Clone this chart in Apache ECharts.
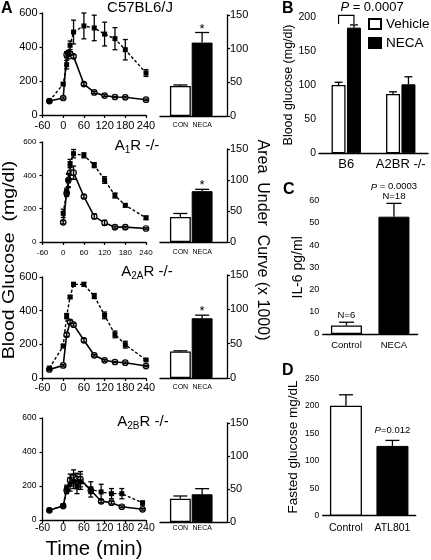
<!DOCTYPE html>
<html><head><meta charset="utf-8">
<script src="https://cdn.jsdelivr.net/npm/echarts@6/dist/echarts.min.js"></script>
<style>html,body{margin:0;padding:0;background:#fff}#c{width:431px;height:560px}</style>
</head><body><div id="c"></div>
<script>
// ---------------- data ----------------
const timeTicks = [-60, 0, 60, 120, 180, 240];
const glucoseTicks = [0, 200, 400, 600];
const aucTicks = [0, 50, 100, 150];
const rowTitles = ['C57BL6/J', 'A1R -/-', 'A2AR -/-', 'A2BR -/-'];
const rowTitleSubs = ['', '1', '2A', '2B'];

const c57Time = [-40, 0, 10, 15, 20, 30, 60, 90, 120, 150, 180, 240];
const c57Vehicle = [82, 100, 355, 361, 361, 345, 182, 133, 114, 106, 104, 90];
const c57VehicleErr = [5, 6, 18, 10, 10, 10, 8, 6, 5, 4, 4, 4];
const c57Neca = [82, 182, 296, 355, 410, 488, 524, 512, 476, 449, 384, 247];
const c57NecaErr = [5, 8, 25, 25, 25, 70, 76, 75, 70, 65, 60, 20];

const a1Time = [0, 10, 15, 20, 30, 60, 90, 120, 150, 180, 240];
const a1Vehicle = [118, 293, 372, 416, 416, 273, 154, 115, 89, 89, 81];
const a1VehicleErr = [10, 20, 40, 35, 40, 10, 15, 15, 6, 5, 4];
const a1Neca = [172, 303, 366, 471, 530, 520, 461, 372, 279, 220, 145];
const a1NecaErr = [25, 20, 40, 25, 25, 15, 15, 20, 15, 10, 10];

const a2aTime = [-40, 0, 10, 20, 30, 60, 90, 120, 150, 180, 240];
const a2aVehicle = [51, 75, 257, 333, 317, 224, 135, 105, 95, 91, 71];
const a2aVehicleErr = [5, 5, 10, 10, 8, 10, 5, 5, 4, 4, 4];
const a2aNeca = [59, 190, 368, 481, 556, 556, 487, 372, 259, 198, 107];
const a2aNecaErr = [5, 10, 15, 8, 12, 12, 15, 20, 20, 20, 5];

const a2bTime = [-40, 0, 10, 20, 30, 40, 50, 80, 110, 140, 170, 230];
const a2bVehicle = [57, 82, 175, 235, 255, 240, 240, 175, 110, 102, 78, 63];
const a2bVehicleErr = [5, 5, 20, 35, 40, 35, 45, 20, 8, 8, 5, 5];
const a2bNeca = [57, 85, 185, 210, 225, 195, 225, 180, 165, 155, 155, 100];
const a2bNecaErr = [5, 5, 20, 40, 40, 40, 45, 45, 45, 30, 30, 12];

const aucCategories = ['CON', 'NECA'];
const aucCon = [44.6, 40.5, 38.6, 35.4];
const aucConErr = [1.5, 5.5, 1, 4];
const aucNeca = [109, 82, 87, 42];
const aucNecaErr = [15, 3, 4.5, 8.5];
const aucSig = ['*', '*', '*', ''];

const bGroups = ['B6', 'A2BR -/-'];
const bTicks = [0, 50, 100, 150, 200];
const bVehicle = [100, 87];
const bVehicleErr = [4, 3];
const bNeca = [184, 101];
const bNecaErr = [4, 11];
const bP = '0.0007';

const cGroups = ['Control', 'NECA'];
const cTicks = [0, 10, 20, 30, 40, 50, 60];
const cIL6 = [3.8, 52.8];
const cIL6Err = [1.5, 6];
const cN = ['N=6', 'N=18'];
const cP = '0.0003';

const dGroups = ['Control', 'ATL801'];
const dTicks = [0, 50, 100, 150, 200, 250];
const dGlucose = [200, 127];
const dGlucoseErr = [20, 10];
const dP = '0.012';

// ---------------- chart ----------------
const FONT = '"Liberation Sans", Arial, Helvetica, sans-serif';
const chart = echarts.init(document.getElementById('c'), null, {width: 431, height: 560});
const AX = {onZero: false, lineStyle: {color: '#000', width: 1.3}};
const TICK = {length: 3, lineStyle: {color: '#000', width: 1.2}};
const lab = (fs, m, extra) => Object.assign({fontSize: fs, margin: m, color: '#000', fontFamily: FONT}, extra || {});
const grids = [], xAxes = [], yAxes = [], series = [], graphics = [];

function errSeries(g, pts, opts) {
  return {
    type: 'custom', xAxisIndex: g, yAxisIndex: g, silent: true, z: 5, data: pts,
    renderItem: function (params, api) {
      const x = api.value(0), lo = api.value(1), hi = api.value(2);
      const top = api.coord([x, hi]), bot = api.coord([x, lo]);
      const cx = top[0] + (opts.dx || 0), w = opts.cap;
      const st = {stroke: '#000', lineWidth: opts.lw || 1.3};
      const ch = [
        {type: 'line', shape: {x1: cx, y1: bot[1], x2: cx, y2: top[1]}, style: st},
        {type: 'line', shape: {x1: cx - w, y1: top[1], x2: cx + w, y2: top[1]}, style: st}
      ];
      if (opts.both) ch.push({type: 'line', shape: {x1: cx - w, y1: bot[1], x2: cx + w, y2: bot[1]}, style: st});
      const t = opts.labels && opts.labels[params.dataIndex];
      if (t) ch.push({type: 'text', x: cx, y: top[1] - (opts.gap || 0), style: {
        text: t, fontSize: opts.fs || 10, fontFamily: FONT, fill: '#000', align: 'center', verticalAlign: 'bottom',
        lineHeight: opts.lh || undefined, rich: {i: {fontStyle: 'italic', fontSize: opts.fs || 10, fontFamily: FONT}}
      }});
      return {type: 'group', children: ch};
    }
  };
}

const rowData = [
  {time: c57Time, veh: c57Vehicle, vehErr: c57VehicleErr, neca: c57Neca, necaErr: c57NecaErr},
  {time: a1Time, veh: a1Vehicle, vehErr: a1VehicleErr, neca: a1Neca, necaErr: a1NecaErr},
  {time: a2aTime, veh: a2aVehicle, vehErr: a2aVehicleErr, neca: a2aNeca, necaErr: a2aNecaErr},
  {time: a2bTime, veh: a2bVehicle, vehErr: a2bVehicleErr, neca: a2bNeca, necaErr: a2bNecaErr}
];
const rowLayout = [
  {top: 13, h: 102, bTop: 15, bH: 101, yFont: 11, xFont: 11, xM: 5, yM: 5, cM: 6, tx: 140, ty: 8},
  {top: 142, h: 100, bTop: 149, bH: 93, yFont: 8, xFont: 8, xM: 7, yM: 6, cM: 7, tx: 137, ty: 146},
  {top: 277, h: 101, bTop: 275, bH: 103, yFont: 11, xFont: 11, xM: 4.5, yM: 5, cM: 6, tx: 147, ty: 272},
  {top: 418, h: 102, bTop: 423, bH: 99, yFont: 8.5, xFont: 10.5, xM: 3, yM: 6, cM: 3, tx: 143, ty: 422}
];

rowData.forEach((d, i) => {
  const L = rowLayout[i];
  const gL = 3 * i, gF = 3 * i + 1, gB = 3 * i + 2;
  grids.push({left: 42.5, top: L.top, width: 103.5, height: L.h});
  grids.push({left: 160, top: L.bTop, width: 67, height: L.bH});
  grids.push({left: 169.5, top: L.bTop, width: 43.5, height: L.bH});
  xAxes.push({gridIndex: gL, type: 'value', min: timeTicks[0], max: timeTicks[timeTicks.length - 1], interval: timeTicks[1] - timeTicks[0],
    axisLine: AX, axisTick: TICK, axisLabel: lab(L.xFont, L.xM), splitLine: {show: false}});
  yAxes.push({gridIndex: gL, type: 'value', min: glucoseTicks[0], max: glucoseTicks[glucoseTicks.length - 1], interval: glucoseTicks[1] - glucoseTicks[0],
    axisLine: AX, axisTick: TICK, axisLabel: lab(L.yFont, L.yM), splitLine: {show: false}});
  xAxes.push({gridIndex: gF, type: 'value', min: 0, max: 1, axisLine: AX, axisTick: {show: false}, axisLabel: {show: false}, splitLine: {show: false}});
  yAxes.push({gridIndex: gF, type: 'value', position: 'right', min: aucTicks[0], max: aucTicks[aucTicks.length - 1], interval: aucTicks[1] - aucTicks[0],
    axisLine: AX, axisTick: TICK, axisLabel: lab(11, 3), splitLine: {show: false}});
  xAxes.push({gridIndex: gB, type: 'category', data: aucCategories, axisLine: {show: false}, axisTick: {show: false},
    axisLabel: lab(7, L.cM, {interval: 0, hideOverlap: false})});
  yAxes.push({gridIndex: gB, type: 'value', min: aucTicks[0], max: aucTicks[aucTicks.length - 1], show: false});

  series.push({name: rowTitles[i] + ' vehicle', type: 'line', xAxisIndex: gL, yAxisIndex: gL,
    data: d.time.map((t, k) => [t, d.veh[k]]), symbol: 'circle', symbolSize: 5.5, z: 4,
    itemStyle: {color: '#e2e2e2', borderColor: '#000', borderWidth: 1.2}, lineStyle: {color: '#000', width: 1.6}});
  series.push({name: rowTitles[i] + ' NECA', type: 'line', xAxisIndex: gL, yAxisIndex: gL,
    data: d.time.map((t, k) => [t, d.neca[k]]), symbol: 'rect', symbolSize: 5, z: 4,
    itemStyle: {color: '#000'}, lineStyle: {color: '#000', width: 1.4, type: [3, 2]}});
  series.push(errSeries(gL, d.time.map((t, k) => [t, d.veh[k] - d.vehErr[k], d.veh[k] + d.vehErr[k]]), {cap: 2.5, both: true}));
  series.push(errSeries(gL, d.time.map((t, k) => [t, d.neca[k] - d.necaErr[k], d.neca[k] + d.necaErr[k]]), {cap: 2.5, both: true}));

  series.push({name: rowTitles[i] + ' AUC', type: 'bar', xAxisIndex: gB, yAxisIndex: gB, barCategoryGap: '4%',
    data: [
      {value: aucCon[i], itemStyle: {color: '#fff', borderColor: '#000', borderWidth: 1.3}},
      {value: aucNeca[i], itemStyle: {color: '#000', borderColor: '#000', borderWidth: 1}}
    ]});
  series.push(errSeries(gB, [[0, aucCon[i], aucCon[i] + aucConErr[i]], [1, aucNeca[i], aucNeca[i] + aucNecaErr[i]]],
    {cap: 7, labels: ['', aucSig[i]], fs: 13, gap: -3}));

  const sub = rowTitleSubs[i];
  const txt = rowTitles[i];
  let rich;
  if (sub) {
    const k = txt.indexOf(sub);
    rich = '{n|' + txt.slice(0, k) + '}{s|' + sub + '}{n|' + txt.slice(k + sub.length) + '}';
  } else rich = '{n|' + txt + '}';
  graphics.push({type: 'text', x: L.tx, y: L.ty, style: {text: rich, align: 'center', verticalAlign: 'middle',
    rich: {n: {fontSize: 15, fontFamily: FONT, fill: '#000'}, s: {fontSize: 10, fontFamily: FONT, fill: '#000', padding: [8, 0, 0, 0]}}}});
});

// ---- Panel B ----
grids.push({left: 319, top: 16.7, width: 109, height: 136.6});
xAxes.push({gridIndex: 12, type: 'category', data: bGroups, axisLine: AX, axisTick: {show: false},
  axisLabel: lab(13, 5, {interval: 0, hideOverlap: false})});
yAxes.push({gridIndex: 12, type: 'value', min: bTicks[0], max: bTicks[bTicks.length - 1], interval: bTicks[1] - bTicks[0],
  axisLine: AX, axisTick: TICK, axisLabel: lab(10.5, 3), splitLine: {show: false},
  name: 'Blood glucose (mg/dl)', nameLocation: 'middle', nameGap: 20, nameTextStyle: {fontSize: 12.5, fontFamily: FONT, color: '#000'}});
series.push({name: 'Vehicle', type: 'bar', xAxisIndex: 12, yAxisIndex: 12, data: bVehicle, barWidth: 14, barGap: '10%',
  itemStyle: {color: '#fff', borderColor: '#000', borderWidth: 1.3}});
series.push({name: 'NECA', type: 'bar', xAxisIndex: 12, yAxisIndex: 12, data: bNeca, barWidth: 14, barGap: '10%',
  itemStyle: {color: '#000', borderColor: '#000', borderWidth: 1}});
series.push(errSeries(12, bVehicle.map((v, k) => [k, v, v + bVehicleErr[k]]), {cap: 4, dx: -7.7}));
series.push(errSeries(12, bNeca.map((v, k) => [k, v, v + bNecaErr[k]]), {cap: 4, dx: 7.7}));
const bTopVal = Math.max(bVehicle[0] + bVehicleErr[0], bNeca[0] + bNecaErr[0]);
series.push({type: 'custom', xAxisIndex: 12, yAxisIndex: 12, silent: true, z: 5, data: [[0, bTopVal, bTopVal + 14]],
  renderItem: function (params, api) {
    const a = api.coord([api.value(0), api.value(1)]), b = api.coord([api.value(0), api.value(2)]);
    return {type: 'polyline', shape: {points: [[a[0] - 7.7, a[1] - 1], [a[0] - 7.7, b[1]], [a[0] + 7.7, b[1]], [a[0] + 7.7, a[1] - 1]]},
      style: {stroke: '#000', lineWidth: 1.2, fill: null}};
  }});
graphics.push({type: 'text', x: 372, y: 7.5, style: {text: '{i|P} = ' + bP, fontSize: 13, fontFamily: FONT, fill: '#000',
  align: 'center', verticalAlign: 'middle', rich: {i: {fontStyle: 'italic', fontSize: 13, fontFamily: FONT}}}});

// ---- Panel C ----
grids.push({left: 322.7, top: 200.7, width: 95, height: 133.3});
xAxes.push({gridIndex: 13, type: 'category', data: cGroups, axisLine: AX, axisTick: {show: false},
  axisLabel: lab(9.5, 6, {interval: 0, hideOverlap: false})});
yAxes.push({gridIndex: 13, type: 'value', min: cTicks[0], max: cTicks[cTicks.length - 1], interval: cTicks[1] - cTicks[0],
  axisLine: AX, axisTick: TICK, axisLabel: lab(9, 3.5), splitLine: {show: false},
  name: 'IL-6 pg/ml', nameLocation: 'middle', nameGap: 16, nameTextStyle: {fontSize: 14, fontFamily: FONT, color: '#000'}});
series.push({name: 'IL-6', type: 'bar', xAxisIndex: 13, yAxisIndex: 13, barWidth: 31,
  data: [
    {value: cIL6[0], itemStyle: {color: '#fff', borderColor: '#000', borderWidth: 1.3}},
    {value: cIL6[1], itemStyle: {color: '#000', borderColor: '#000', borderWidth: 1}}
  ]});
series.push(errSeries(13, cIL6.map((v, k) => [k, v, v + cIL6Err[k]]),
  {cap: 7.5, fs: 9.5, lh: 10, gap: 1.5, labels: [cN[0], '{i|P} = ' + cP + '\n' + cN[1]]}));

// ---- Panel D ----
grids.push({left: 322.7, top: 378.3, width: 93, height: 137.4});
xAxes.push({gridIndex: 14, type: 'category', data: dGroups, axisLine: AX, axisTick: {show: false},
  axisLabel: lab(10.5, 7, {interval: 0, hideOverlap: false})});
yAxes.push({gridIndex: 14, type: 'value', min: dTicks[0], max: dTicks[dTicks.length - 1], interval: dTicks[1] - dTicks[0],
  axisLine: AX, axisTick: TICK, axisLabel: lab(8.5, 3.5), splitLine: {show: false},
  name: 'Fasted glucose mg/dL', nameLocation: 'middle', nameGap: 22, nameTextStyle: {fontSize: 13.5, fontFamily: FONT, color: '#000'}});
series.push({name: 'Fasted glucose', type: 'bar', xAxisIndex: 14, yAxisIndex: 14, barWidth: 32,
  data: [
    {value: dGlucose[0], itemStyle: {color: '#fff', borderColor: '#000', borderWidth: 1.3}},
    {value: dGlucose[1], itemStyle: {color: '#000', borderColor: '#000', borderWidth: 1}}
  ]});
series.push(errSeries(14, dGlucose.map((v, k) => [k, v, v + dGlucoseErr[k]]),
  {cap: 7, fs: 9.5, gap: 5, labels: ['', '{i|P}=' + dP]}));

// ---- big labels ----
graphics.push({type: 'text', x: 9.5, y: 260, rotation: Math.PI / 2, scaleX: 1.22,
  style: {text: 'Blood Glucose  (mg/dl)', fontSize: 16, fontFamily: FONT, fill: '#000', align: 'center', verticalAlign: 'middle'}});
graphics.push({type: 'text', x: 262, y: 240, rotation: -Math.PI / 2,
  style: {text: 'Area  Under  Curve (x 1000)', fontSize: 16, fontFamily: FONT, fill: '#000', align: 'center', verticalAlign: 'middle'}});
graphics.push({type: 'text', x: 94, y: 549,
  style: {text: 'Time (min)', fontSize: 20.5, fontFamily: FONT, fill: '#000', align: 'center', verticalAlign: 'middle'}});

const letter = (t, l, tp) => ({text: t, left: l, top: tp, padding: 0, textStyle: {fontSize: 16, fontWeight: 'bold', fontFamily: FONT, color: '#000'}});

chart.setOption({
  animation: false,
  backgroundColor: '#fff',
  title: [letter('A', 1, 1), letter('B', 282, 1), letter('C', 283, 182), letter('D', 282, 363)],
  legend: {data: ['Vehicle', 'NECA'], orient: 'vertical', left: 368, top: 17, itemWidth: 12, itemHeight: 10, itemGap: 5, padding: 0,
    icon: 'rect', textStyle: {fontSize: 13.5, fontFamily: FONT, color: '#000'}},
  grid: grids, xAxis: xAxes, yAxis: yAxes, series: series, graphic: graphics
});
</script></body></html>
